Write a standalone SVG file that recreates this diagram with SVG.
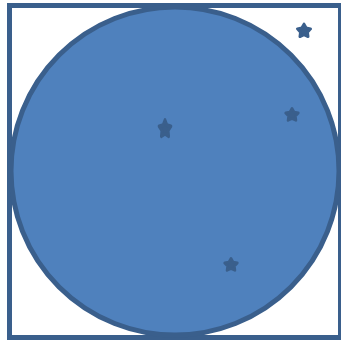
<svg xmlns="http://www.w3.org/2000/svg" width="341" height="340" viewBox="0 0 341 340">
  <style>
    .frame { fill: #FFFFFF; stroke: #3A5F8C; stroke-width: 5; }
    .disc { fill: #4F81BD; stroke: #3A5F8C; stroke-width: 5; }
    .star { fill: #3A5F8C; stroke: #3A5F8C; stroke-width: 2.5; stroke-linejoin: round; }
  </style>
  <defs>
    <path id="starShape" d="M0,-6 L1.9,-2.6 L5.71,-1.85 L3.05,1 L3.53,4.85 L0,3.2 L-3.53,4.85 L-3.05,1 L-5.71,-1.85 L-1.9,-2.6 Z"/>
  </defs>
  <g id="frame">
    <rect class="frame" x="9.5" y="5.5" width="331" height="332"/>
  </g>
  <g id="circle">
    <circle class="disc" cx="175" cy="171" r="164"/>
  </g>
  <g id="stars">
    <g id="star1"><use href="#starShape" class="star" transform="translate(304,31) scale(1.15)"/></g>
    <g id="star2"><use href="#starShape" class="star" transform="translate(165,129) scale(1.05,1.5)"/></g>
    <g id="star3"><use href="#starShape" class="star" transform="translate(292,115) scale(1.1)"/></g>
    <g id="star4"><use href="#starShape" class="star" transform="translate(231,265) scale(1.1)"/></g>
  </g>
  <g id="connectors"></g>
</svg>
